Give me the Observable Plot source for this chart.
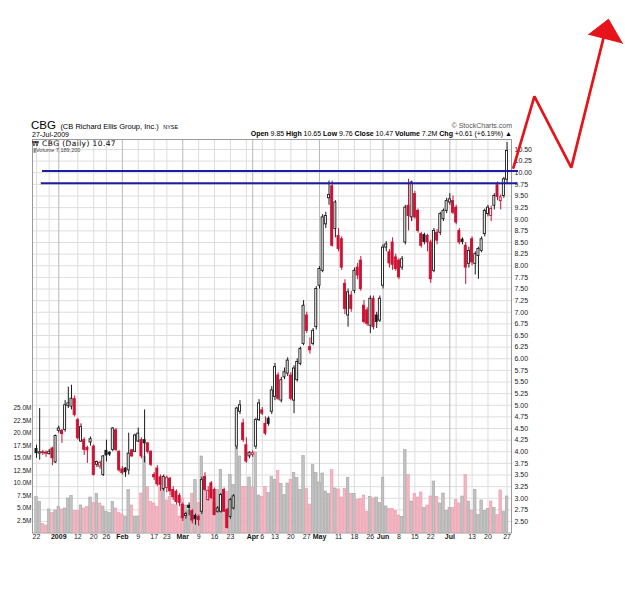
<!DOCTYPE html>
<html><head><meta charset="utf-8">
<script src="https://cdn.jsdelivr.net/npm/d3@7"></script>
<script src="https://cdn.jsdelivr.net/npm/@observablehq/plot@0.6"></script>
<style>
body{margin:0;background:#fff;font-family:"Liberation Sans",Arial,sans-serif;}
#wrap{position:relative;width:625px;height:605px;overflow:hidden;background:#fff;}
#wrap svg{position:absolute;left:0;top:0;}
.hd{position:absolute;white-space:nowrap;color:#000;line-height:1;}
</style></head><body><div id="wrap"></div>
<script>
// ---- daily OHLC (22-Dec-2008 .. 27-Jul-2009), index = trading day ----
const opens = [4.06,3.96,3.99,3.98,3.95,4.07,3.77,4.45,4.45,4.47,4.98,4.97,5.13,4.68,4.22,4.25,4.08,4.20,4.11,3.72,3.68,3.50,4.02,3.98,4.04,4.46,4.00,3.62,3.64,3.60,4.03,4.00,4.22,4.25,4.25,4.18,4.00,3.50,3.64,3.45,3.20,3.22,3.42,3.18,3.14,3.05,2.86,2.62,2.84,2.72,2.62,2.60,2.71,3.46,2.96,3.32,3.18,2.71,2.71,3.18,2.75,2.60,2.78,4.11,4.86,4.61,4.14,3.90,3.93,4.11,4.68,4.89,4.60,4.71,4.86,5.18,5.64,5.10,5.60,5.68,5.64,5.10,5.54,5.89,6.32,6.93,6.25,6.32,6.68,7.57,7.89,8.89,9.45,9.71,8.79,8.64,8.57,7.61,6.93,7.36,7.46,7.96,8.11,7.14,7.04,6.71,7.29,6.93,6.82,7.57,8.39,8.29,8.50,8.18,8.11,7.96,8.50,9.29,9.04,9.54,9.18,8.68,8.66,8.64,8.50,7.89,8.71,8.71,9.00,9.18,9.36,9.39,9.25,8.75,8.56,8.43,8.04,8.57,8.04,8.21,8.32,8.68,9.11,9.07,9.29,9.73,9.39,9.50,9.85];
const highs = [4.14,4.93,4.03,4.02,4.05,4.10,4.36,4.55,4.48,5.10,5.39,5.43,5.20,4.72,4.60,4.30,4.12,4.32,4.15,3.80,3.80,3.92,4.25,4.00,4.52,4.50,4.02,3.68,3.66,4.40,4.05,4.38,4.51,4.30,4.90,4.20,4.02,3.55,3.70,3.50,3.50,3.48,3.45,3.25,3.18,3.10,2.90,2.70,2.90,2.76,2.66,2.64,3.45,3.55,3.25,3.36,3.22,2.82,3.10,3.22,2.78,3.00,3.08,4.96,5.10,4.70,4.30,4.00,4.02,4.72,5.12,4.95,4.75,4.75,5.40,5.90,5.70,5.60,5.80,6.02,5.70,5.85,6.00,6.25,7.25,7.00,6.45,6.65,7.55,7.98,9.10,9.15,9.82,9.82,9.40,8.80,8.62,7.70,7.50,7.45,7.95,8.05,8.20,7.25,7.10,7.35,7.35,7.00,7.35,8.45,8.52,8.35,8.60,8.25,8.15,8.20,9.30,9.86,9.82,9.60,9.22,8.72,8.70,8.68,8.55,8.80,8.78,9.15,9.22,9.45,9.55,9.50,9.30,8.80,8.60,8.50,8.40,8.62,8.30,8.40,8.62,9.22,9.30,9.28,9.55,9.80,9.52,9.90,10.65];
const lows = [3.86,3.82,3.92,3.88,3.93,3.70,3.75,4.40,4.18,4.42,4.93,4.90,4.75,4.25,4.20,3.92,3.75,4.12,3.48,3.66,3.62,3.47,3.78,3.90,4.00,4.00,3.56,3.50,3.45,3.50,3.88,3.98,4.20,3.85,3.76,3.95,3.68,3.38,3.25,3.15,3.15,3.12,3.05,2.95,2.85,2.82,2.50,2.55,2.62,2.45,2.42,2.40,2.65,3.15,2.94,2.98,2.62,2.68,2.68,2.70,2.34,2.55,2.75,4.05,4.80,4.20,3.75,3.85,3.88,4.05,4.65,4.78,4.35,4.55,4.80,5.10,5.10,5.05,5.55,5.62,5.10,4.82,5.50,5.85,6.28,6.55,6.10,6.28,6.62,7.50,7.85,8.80,9.30,8.40,8.60,8.30,7.90,6.95,6.68,7.00,7.40,7.70,7.45,6.75,6.70,6.54,6.62,6.65,6.78,7.50,8.30,7.95,7.90,7.88,7.70,7.90,8.45,8.75,8.95,9.00,8.70,8.38,8.45,8.30,7.62,7.85,8.45,8.65,8.95,9.12,9.30,9.10,8.88,8.45,8.45,7.60,7.95,8.00,7.80,7.71,8.28,8.62,9.05,8.95,9.20,9.40,9.20,9.45,9.76];
const closes = [3.97,3.99,3.97,3.96,4.00,3.86,4.34,4.50,4.38,5.00,5.04,5.14,4.79,4.29,4.53,4.04,4.03,4.27,3.50,3.78,3.76,3.90,3.92,3.94,4.50,4.04,3.60,3.54,3.56,3.96,3.90,4.35,4.39,3.90,4.18,4.00,3.72,3.45,3.30,3.28,3.46,3.44,3.15,3.02,2.92,2.90,2.57,2.66,2.79,2.52,2.55,2.53,3.39,3.18,3.16,3.00,2.64,2.78,3.07,2.71,2.36,2.96,3.04,4.93,5.00,4.25,3.79,3.98,3.97,4.68,5.04,4.82,4.39,4.60,5.32,5.82,5.14,5.54,5.71,5.96,5.14,5.79,5.93,6.21,7.14,6.60,6.18,6.60,7.50,7.93,9.04,9.07,9.52,8.43,9.36,8.36,7.96,7.07,7.43,7.07,7.89,7.79,7.50,6.79,6.75,7.29,6.68,6.79,7.29,8.39,8.46,8.05,8.02,7.93,7.75,8.14,9.25,9.07,9.79,9.04,8.75,8.43,8.51,8.50,7.71,8.75,8.54,9.11,9.18,9.39,9.43,9.14,8.93,8.50,8.51,7.96,8.32,8.07,8.25,8.36,8.57,9.18,9.25,9.22,9.50,9.48,9.47,9.86,10.47];
// daily volume, millions of shares
const volumes = [7.2,6.2,1.8,1.5,4.7,4.0,4.5,5.2,4.7,4.9,6.9,7.4,4.4,4.4,5.5,4.9,5.2,7.1,6.0,7.8,5.9,5.3,4.2,4.0,6.2,4.9,4.0,3.7,3.3,8.6,5.5,3.3,3.3,7.9,15.3,9.2,6.2,5.9,5.2,9.2,8.6,6.5,7.2,5.7,5.5,3.3,6.9,5.5,4.5,7.8,10.6,6.0,15.3,9.2,7.2,8.6,5.9,8.6,12.6,6.9,8.2,11.6,9.6,17.0,15.3,9.2,9.2,11.1,9.1,16.1,7.5,7.2,9.2,8.0,
11.2,10.6,12.4,9.8,7.6,9.9,10.6,12.0,11.0,8.6,15.4,8.8,5.7,13.6,12.0,10.1,11.9,8.3,7.8,12.6,8.9,8.7,7.1,8.8,11.0,7.8,7.8,6.6,6.8,7.5,4.2,7.2,6.9,7.1,6.0,11.0,5.3,4.8,4.8,4.4,3.5,3.2,16.6,11.6,6.3,7.8,7.1,8.1,5.0,5.5,7.3,10.3,7.2,5.9,7.9,4.4,5.0,5.0,6.6,5.9,7.3,11.6,6.3,4.5,8.6,3.6,6.5,4.4,4.8,6.3,5.0,3.6,8.5,4.2,7.3];

// ---- axis ticks / labels ----
const priceTicks = [2.5,2.75,3,3.25,3.5,3.75,4,4.25,4.5,4.75,5,5.25,5.5,5.75,6,6.25,6.5,6.75,7,7.25,7.5,7.75,8,8.25,8.5,8.75,9,9.25,9.5,9.75,10,10.25,10.5];
const volTicks = [2.5,5,7.5,10,12.5,15,17.5,20,22.5,25];
const xTickIdx = [0,7,13,18,22,27,32,37,41,46,51,56,61,68,71,75,80,85,89,95,100,105,109,114,119,124,130,137,142,148];
const xTickLab = ["22","2009","12","20","26","Feb","9","17","23","Mar","9","16","23","Apr","6","13","20","27","May","11","18","26","Jun","8","15","22","Jul","13","20","27"];
const monthIdx = [7,27,46,68,89,109,130];
const extraWeekIdx = [4,66,132];

// ---- annotations: horizontal resistance lines and hand-drawn arrow (data units) ----
const resistLevels = [10.035, 9.775];
const resistFrom = [1.9, 1.5];
const resistTo = [151.6, 151.3];
const arrowDay = [150.0, 156.6, 168.2, 178.3];
const arrowPrice = [10.11, 11.64, 10.11, 12.89];
const headDay = [173.6, 179.9, 184.3];
const headPrice = [12.97, 13.30, 12.78];

// ---- layout ----
const W = 625, H = 605, mL = 32, mR = 114, mT = 139, mB = 72.5;
const xDomain = [-1.26, 149.4];
const priceDomain = [2.253, 10.715];
const volDomain = [0, 78.7];
const RED = "#cc1133", BLK = "#1a1a1a";
const font = "Liberation Sans, Arial, sans-serif";

const days = closes.map((c, i) => ({
  i, o: opens[i], h: highs[i], l: lows[i], c, v: volumes[i],
  up: i === 0 || c >= closes[i - 1]
}));
const ticks = xTickIdx.map((i, k) => ({i, label: xTickLab[k], month: monthIdx.includes(i) || xTickLab[k] === "2009"}));
const weekGrid = xTickIdx.filter(i => !monthIdx.includes(i)).concat(extraWeekIdx);
const resist = resistLevels.map((p, k) => ({p, x1: resistFrom[k], x2: resistTo[k]}));
const arrow = arrowDay.map((d, k) => ({x: d, y: arrowPrice[k]}));
const head = headDay.map((d, k) => ({x: d, y: headPrice[k]}));

const common = {width: W, height: H, marginLeft: mL, marginRight: mR, marginTop: mT, marginBottom: mB,
  style: {background: "transparent", fontFamily: font, overflow: "visible"}, color: {type: "identity"}};

const base = Plot.plot({...common,
  x: {domain: xDomain, axis: null}, y: {domain: priceDomain},
  marks: [
    Plot.ruleY(priceTicks, {stroke: "#dedede"}),
    Plot.ruleX(weekGrid, {stroke: "#dedede"}),
    Plot.ruleX(monthIdx, {stroke: "#b8b8b8"}),
    Plot.axisY({anchor: "right", ticks: priceTicks, tickFormat: d => d.toFixed(2), tickSize: 0, tickPadding: 3, fontSize: 7, fill: "#222", label: null}),
    Plot.text(ticks.filter(t => !t.month), {x: "i", text: "label", frameAnchor: "bottom", dy: 6, fontSize: 7, fill: "#222"}),
    Plot.text(ticks.filter(t => t.month), {x: "i", text: "label", frameAnchor: "bottom", dy: 6, fontSize: 7, fontWeight: "bold", fill: "#111"}),
    Plot.frame({stroke: "#9a9a9a"})
  ]});

const vol = Plot.plot({...common,
  x: {domain: xDomain, axis: null}, y: {domain: volDomain},
  marks: [
    Plot.rect(days, {x1: d => d.i - 0.4, x2: d => d.i + 0.4, y1: 0, y2: "v",
      fill: d => d.up ? "#c2c2c2" : "#f3b6c2", stroke: d => d.up ? "#a4a4a4" : "#e99bab", strokeWidth: 0.6}),
    Plot.axisY({anchor: "left", ticks: volTicks, tickFormat: d => d.toFixed(1) + "M", tickSize: 0, tickPadding: 1, fontSize: 6.5, fill: "#222", label: null})
  ]});

const px = Plot.plot({...common,
  x: {domain: xDomain, axis: null}, y: {domain: priceDomain, axis: null},
  marks: [
    Plot.ruleX(days, {x: "i", y1: "l", y2: "h", stroke: d => d.up ? BLK : RED, strokeWidth: 1}),
    Plot.rect(days, {x1: d => d.i - 0.32, x2: d => d.i + 0.32, y1: "o", y2: "c",
      fill: d => d.c >= d.o ? "#ffffff" : (d.up ? BLK : RED), stroke: d => d.up ? BLK : RED, strokeWidth: 0.9}),
    Plot.ruleY(resist, {y: "p", x1: "x1", x2: "x2", stroke: "#1c1ca6", strokeWidth: 2}),
    Plot.line(arrow, {x: "x", y: "y", stroke: "#e5141b", strokeWidth: 2.7, strokeLinejoin: "miter"}),
    Plot.line(head, {x: "x", y: "y", fill: "#e5141b", stroke: "#e5141b", strokeWidth: 1})
  ]});

const wrap = document.getElementById("wrap");
wrap.appendChild(base);
wrap.appendChild(vol);
wrap.appendChild(px);

function hd(html, css) {
  const d = document.createElement("div");
  d.className = "hd"; d.innerHTML = html; d.style.cssText += css;
  wrap.appendChild(d);
}
hd('<span style="font-size:11.5px">CBG</span> <span style="font-size:7.5px">(CB Richard Ellis Group, Inc.)</span> <span style="font-size:5.5px">NYSE</span>', "left:31px;top:118px;line-height:11px;");
hd('27-Jul-2009', "left:32px;top:131px;font-size:7px;");
hd('&copy; StockCharts.com', "right:113px;top:122px;font-size:7px;color:#555;");
hd('<b>Open</b> 9.85 <b>High</b> 10.65 <b>Low</b> 9.76 <b>Close</b> 10.47 <b>Volume</b> 7.2M <b>Chg</b> +0.61 (+6.19%) &#9650;', "right:113px;top:130px;font-size:7px;");
hd('<span style="font-size:7px">&#8361;</span> CBG (Daily) 10.47', "left:32px;top:140px;font-size:7.5px;letter-spacing:0.4px;font-family:'DejaVu Sans',sans-serif;");
hd('<span style="color:#888">&#9646;</span>Volume 7,189,200', "left:33px;top:148px;font-size:5.5px;color:#444;");
</script>
</body></html>
